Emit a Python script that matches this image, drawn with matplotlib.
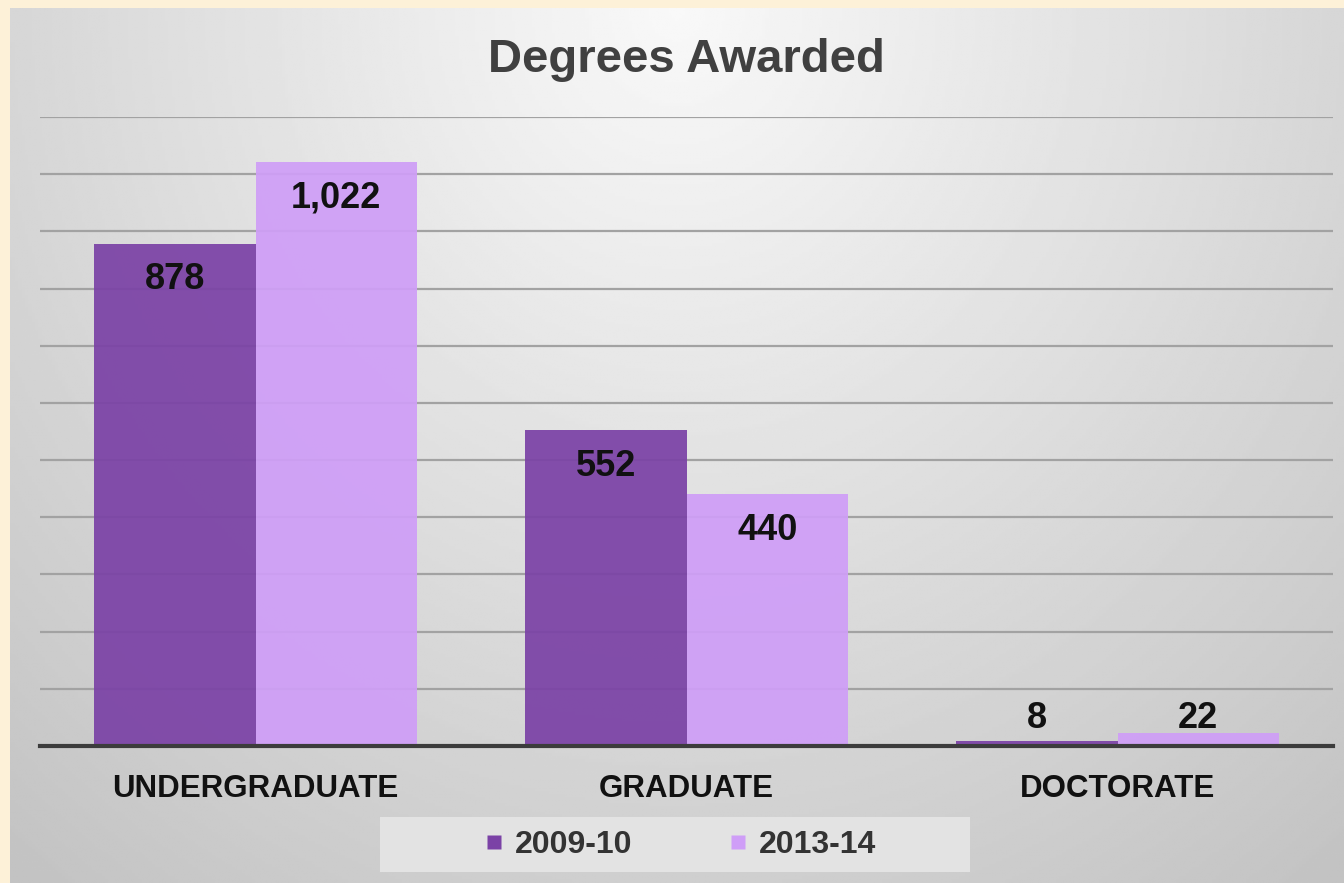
import numpy as np
import matplotlib.pyplot as plt
from matplotlib.lines import Line2D
from matplotlib.patches import Rectangle

# data
categories = ['UNDERGRADUATE', 'GRADUATE', 'DOCTORATE']
series_names = ['2009-10', '2013-14']
values_2009 = [878, 552, 8]
values_2013 = [1022, 440, 22]
colors = ['#7b42a6', '#cf9ef7']

plt.rcParams['font.family'] = ['Liberation Sans', 'DejaVu Sans']
plt.rcParams['font.weight'] = 'bold'

W, H = 1344, 883
fig = plt.figure(figsize=(W / 100, H / 100), dpi=100)
fig.patch.set_facecolor('#fdf1d8')

# gradient panel background
bg = fig.add_axes([10 / W, 0, (W - 10) / W, (H - 8) / H])
gx, gy = np.meshgrid(np.linspace(-1, 1, 400), np.linspace(0, 1, 300))
dist = np.sqrt((gx * 0.9) ** 2 + (gy * 1.1) ** 2)
shade = 0.975 - 0.21 * np.clip(dist / 1.4, 0, 1)
bg.imshow(shade, cmap='gray', vmin=0, vmax=1, aspect='auto',
          extent=[0, 1, 0, 1], origin='upper')
bg.set_axis_off()

# plot area
ax = fig.add_axes([40 / W, (H - 746) / H, 1293 / W, (746 - 117) / H])
ax.set_facecolor('none')
x = np.arange(len(categories))
width = 0.375

bars = []
for i, (vals, name) in enumerate(zip([values_2009, values_2013], series_names)):
    b = ax.bar(x + (i - 0.5) * width, vals, width, color=colors[i],
               alpha=0.93, label=name, zorder=2)
    bars.append(b)

ax.set_xlim(-0.5, 2.5)
ax.set_ylim(0, 1100)
ax.set_yticks(np.arange(100, 1101, 100))
ax.yaxis.grid(True, color='#a2a2a2', lw=1.6, zorder=0)
ax.tick_params(axis='y', length=0, labelleft=False)
ax.set_xticks(x)
ax.set_xticklabels(categories, fontsize=22.5, fontweight='bold', color='#111111')
ax.tick_params(axis='x', length=0, pad=20)
for s in ['top', 'right', 'left']:
    ax.spines[s].set_visible(False)
ax.spines['bottom'].set_color('#3c3c3c')
ax.spines['bottom'].set_linewidth(3)
ax.spines['bottom'].set_zorder(3)

# value labels: inside end for tall bars, above the group for short ones
group_max = [max(a, b) for a, b in zip(values_2009, values_2013)]
for b in bars:
    for j, rect in enumerate(b):
        v = rect.get_height()
        cx_ = rect.get_x() + rect.get_width() / 2
        if v > 100:
            ax.annotate(f'{int(v):,}', (cx_, v), xytext=(0, -36),
                        textcoords='offset pixels', ha='center', va='center',
                        fontsize=26, fontweight='bold', color='#111111', zorder=4)
        else:
            ax.annotate(f'{int(v):,}', (cx_, group_max[j]), xytext=(0, 15),
                        textcoords='offset pixels', ha='center', va='center',
                        fontsize=26, fontweight='bold', color='#111111', zorder=4)

# title
fig.text(686 / W, 1 - 60 / H, 'Degrees Awarded', ha='center', va='center',
         fontsize=34, fontweight='bold', color='#404040')

# legend
fig.patches.append(Rectangle((380 / W, 1 - 872 / H), 590 / W, 55 / H,
                             transform=fig.transFigure, facecolor='#e3e3e3',
                             edgecolor='none', zorder=1))
handles = [Line2D([0], [0], marker='s', color='none', markerfacecolor=c,
                  markeredgecolor='none', markersize=10.5) for c in colors]
leg = fig.legend(handles, series_names, loc='center',
                 bbox_to_anchor=(680 / W, 1 - 845 / H), ncol=2, frameon=False,
                 fontsize=23, handlelength=0.6, handletextpad=0.35,
                 columnspacing=3.0)
for t in leg.get_texts():
    t.set_color('#333333')
    t.set_fontweight('bold')

fig.savefig('out.png', dpi=100)
